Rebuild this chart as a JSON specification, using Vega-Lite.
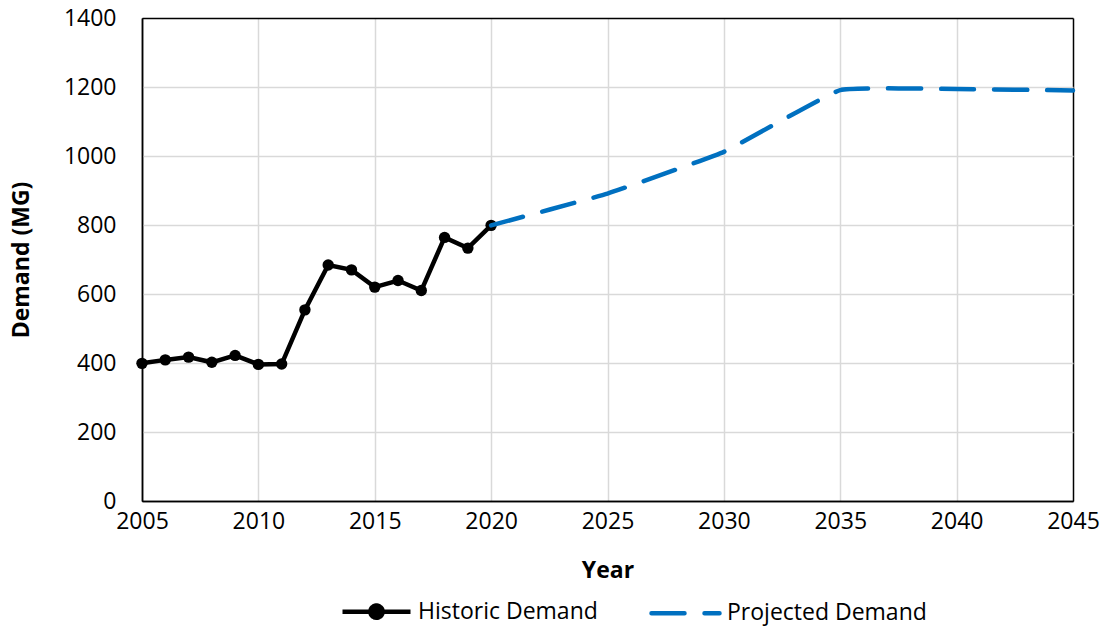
{
  "$schema": "https://vega.github.io/schema/vega-lite/v6.json",
  "width": 931,
  "height": 483,
  "autosize": {"type": "none"},
  "padding": {"left": 142, "top": 18, "right": 31, "bottom": 126},
  "background": "white",
  "data": {
    "values": [
      {"year": 2005, "value": 399, "series": "Historic Demand"},
      {"year": 2006, "value": 409, "series": "Historic Demand"},
      {"year": 2007, "value": 417, "series": "Historic Demand"},
      {"year": 2008, "value": 402, "series": "Historic Demand"},
      {"year": 2009, "value": 422, "series": "Historic Demand"},
      {"year": 2010, "value": 396, "series": "Historic Demand"},
      {"year": 2011, "value": 397, "series": "Historic Demand"},
      {"year": 2012, "value": 554, "series": "Historic Demand"},
      {"year": 2013, "value": 684, "series": "Historic Demand"},
      {"year": 2014, "value": 670, "series": "Historic Demand"},
      {"year": 2015, "value": 620, "series": "Historic Demand"},
      {"year": 2016, "value": 639, "series": "Historic Demand"},
      {"year": 2017, "value": 610, "series": "Historic Demand"},
      {"year": 2018, "value": 764, "series": "Historic Demand"},
      {"year": 2019, "value": 733, "series": "Historic Demand"},
      {"year": 2020, "value": 799, "series": "Historic Demand"},
      {"year": 2020, "value": 799, "series": "Projected Demand"},
      {"year": 2025, "value": 891, "series": "Projected Demand"},
      {"year": 2030, "value": 1012, "series": "Projected Demand"},
      {"year": 2035, "value": 1191, "series": "Projected Demand"},
      {"year": 2040, "value": 1194, "series": "Projected Demand"},
      {"year": 2045, "value": 1190, "series": "Projected Demand"}
    ]
  },
  "encoding": {
    "x": {
      "field": "year", "type": "quantitative",
      "scale": {"domain": [2005, 2045], "nice": false, "zero": false},
      "axis": {
        "title": "Year",
        "values": [2005, 2010, 2015, 2020, 2025, 2030, 2035, 2040, 2045],
        "format": "d",
        "labelFlush": false,
        "ticks": false,
        "labelPadding": 9,
        "titlePadding": 26,
        "domainColor": "#000000",
        "domainWidth": 1.5,
        "gridColor": {"condition": {"test": "datum.value === 2005 || datum.value === 2045", "value": "#000000"}, "value": "#d9d9d9"}
      }
    },
    "y": {
      "field": "value", "type": "quantitative",
      "scale": {"domain": [0, 1400], "nice": false},
      "axis": {
        "title": "Demand (MG)",
        "values": [0, 200, 400, 600, 800, 1000, 1200, 1400],
        "format": "d",
        "ticks": false,
        "labelPadding": 26,
        "titlePadding": 30,
        "domainColor": "#000000",
        "domainWidth": 1.5,
        "gridColor": {"condition": {"test": "datum.value === 0 || datum.value === 1400", "value": "#000000"}, "value": "#d9d9d9"}
      }
    },
    "color": {
      "field": "series", "type": "nominal",
      "scale": {"domain": ["Historic Demand", "Projected Demand"], "range": ["#000000", "#0070C0"]},
      "legend": {
        "title": null,
        "orient": "none",
        "direction": "horizontal",
        "legendX": 198,
        "legendY": 557,
        "symbolSize": 4624,
        "symbolStrokeWidth": 4.5,
        "labelOffset": 5,
        "labelLimit": 400,
        "columnPadding": 44,
        "encode": {
          "symbols": {
            "update": {
              "shape": [
                {"test": "datum.value === 'Historic Demand'", "value": "M-1,0L1,0M-0.18,0A0.18,0.18 0 1,1 0.18,0A0.18,0.18 0 1,1 -0.18,0Z"},
                {"value": "M-1,0L1,0"}
              ],
              "fill": [
                {"test": "datum.value === 'Historic Demand'", "value": "#000000"},
                {"value": "transparent"}
              ],
              "stroke": [
                {"test": "datum.value === 'Historic Demand'", "value": "#000000"},
                {"value": "#0070C0"}
              ],
              "strokeDash": [
                {"test": "datum.value === 'Projected Demand'", "value": [33, 20]},
                {"value": [1, 0]}
              ],
              "strokeCap": [
                {"test": "datum.value === 'Projected Demand'", "value": "round"},
                {"value": "butt"}
              ]
            }
          }
        }
      }
    }
  },
  "layer": [
    {
      "transform": [{"filter": "datum.series === 'Historic Demand'"}],
      "mark": {"type": "line", "strokeWidth": 4.5, "point": {"filled": true, "size": 130, "opacity": 1}}
    },
    {
      "transform": [{"filter": "datum.series === 'Projected Demand'"}],
      "mark": {"type": "line", "strokeWidth": 4.5, "strokeDash": [33, 20], "strokeCap": "round", "interpolate": "cardinal", "tension": 0.7}
    }
  ],
  "config": {
    "font": "Open Sans",
    "view": {"stroke": null},
    "axis": {
      "labelFont": "Open Sans",
      "labelFontSize": 23,
      "labelColor": "#000000",
      "titleFont": "Open Sans",
      "titleFontSize": 23,
      "titleFontWeight": "bold",
      "titleColor": "#000000",
      "gridWidth": 1.5
    },
    "legend": {
      "labelFont": "Open Sans",
      "labelFontSize": 23,
      "labelColor": "#000000"
    }
  }
}
